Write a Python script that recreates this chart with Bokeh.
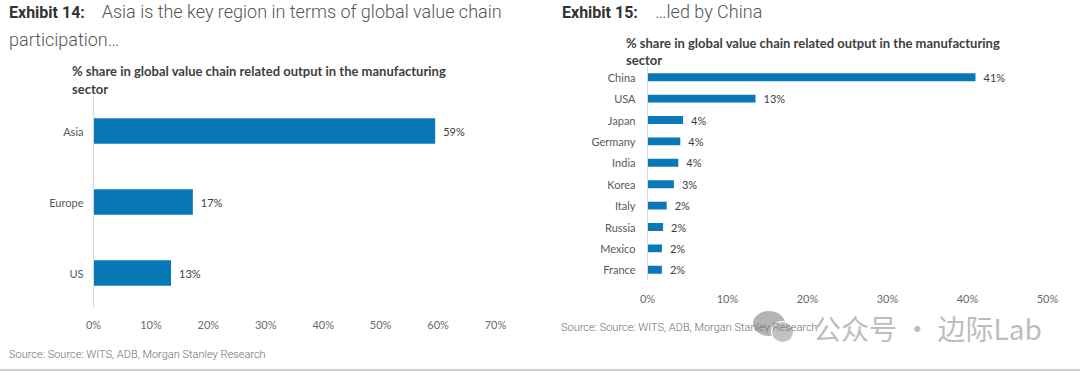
from bokeh.plotting import figure
from bokeh.layouts import row, column
from bokeh.models import Range1d, FactorRange, FixedTicker, PrintfTickFormatter, ColumnDataSource, Div
from bokeh.core.properties import value
from bokeh.embed import file_html
from bokeh.resources import INLINE

# ---------------- data ----------------
regions = ["Asia", "Europe", "US"]
region_share = [59.5, 17.3, 13.5]
region_labels = ["59%", "17%", "13%"]
region_ticks = [0, 10, 20, 30, 40, 50, 60, 70]

countries = ["China", "USA", "Japan", "Germany", "India", "Korea", "Italy", "Russia", "Mexico", "France"]
country_share = [41.0, 13.5, 4.45, 4.1, 3.85, 3.3, 2.4, 1.95, 1.8, 1.8]
country_labels = ["41%", "13%", "4%", "4%", "4%", "3%", "2%", "2%", "2%", "2%"]
country_ticks = [0, 10, 20, 30, 40, 50]

title14_bold = "Exhibit 14:"
title14_text = "Asia is the key region in terms of global value chain"
title14_line2 = "participation\u2026"
title15_bold = "Exhibit 15:"
title15_text = "\u2026led by China"
subtitle1 = "% share in global value chain related output in the manufacturing"
subtitle2 = "sector"
source_text = "Source: Source: WITS, ADB, Morgan Stanley Research"
watermark = "\u516c\u4f17\u53f7 \u00b7 \u8fb9\u9645Lab"

BAR = "#0a78b7"
FONT = "Lato"


def make_chart(cats, vals, labs, ticks, xmax, width, height, bl, br, bt, bb,
               bar_h, tick_standoff, cat_standoff):
    p = figure(width=width, height=height,
               y_range=FactorRange(factors=list(reversed(cats))),
               x_range=Range1d(0, xmax),
               output_backend="svg", toolbar_location=None,
               min_border_left=bl, min_border_right=br,
               min_border_top=bt, min_border_bottom=bb)
    try:
        p.frame_align = False
    except Exception:
        pass
    p.outline_line_color = None
    p.grid.visible = False
    src = ColumnDataSource(dict(cat=cats, val=vals, lab=labs))
    p.hbar(y="cat", left=0, right="val", height=bar_h, source=src,
           fill_color=BAR, line_color=None)
    p.text(x="val", y="cat", text="lab", source=src, x_offset=8,
           text_baseline="middle", text_align="left",
           text_font=value(FONT), text_font_size="11px", text_color="#404040")
    xa = p.xaxis[0]
    xa.ticker = FixedTicker(ticks=ticks)
    xa.formatter = PrintfTickFormatter(format="%d%%")
    xa.axis_line_color = None
    xa.major_tick_line_color = None
    xa.minor_tick_line_color = None
    xa.major_tick_out = 0
    xa.major_tick_in = 0
    xa.major_label_standoff = tick_standoff
    xa.major_label_text_font = FONT
    xa.major_label_text_font_size = "11px"
    xa.major_label_text_color = "#6a6a6a"
    ya = p.yaxis[0]
    ya.axis_line_color = "#d9d9d9"
    ya.axis_line_width = 1
    ya.major_tick_line_color = None
    ya.minor_tick_line_color = None
    ya.major_tick_out = 0
    ya.major_tick_in = 0
    ya.major_label_standoff = cat_standoff
    ya.major_label_text_font = FONT
    ya.major_label_text_font_size = "11px"
    ya.major_label_text_color = "#595959"
    return p


K = {"Roboto": 0.842, "Lato": 0.887, "Noto Sans CJK SC": 0.88}


def span(x, baseline, text, size, family, weight, color):
    top = baseline - K[family] * size
    return ('<span style="position:absolute;left:%spx;top:%.1fpx;font-family:\'%s\';'
            'font-size:%spx;font-weight:%s;color:%s;line-height:1;white-space:nowrap;">%s</span>'
            % (x, top, family, size, weight, color, text))


def shape(x, y, w, h, color, extra=""):
    return ('<div style="position:absolute;left:%spx;top:%spx;width:%spx;height:%spx;'
            'background:%s;border-radius:50%%;%s"></div>' % (x, y, w, h, color, extra))


def box(w, h, inner):
    return Div(text='<div style="position:relative;width:%dpx;height:%dpx;overflow:visible;">%s</div>'
               % (w, h, inner), width=w, height=h, margin=(0, 0, 0, 0))


# ---------------- left panel ----------------
head_l = box(540, 95,
             span(9, 18.5, title14_bold, 16, "Roboto", 700, "#333333")
             + span(101.7, 18.5, title14_text, 18, "Roboto", 300, "#555555")
             + span(9, 46.5, title14_line2, 18, "Roboto", 300, "#555555")
             + span(72, 76, subtitle1, 13, "Lato", 700, "#404040")
             + span(72, 94, subtitle2, 13, "Lato", 700, "#404040"))
left = make_chart(regions, region_share, region_labels, region_ticks, 70,
                  540, 245, 93, 45, 0, 32, 0.36, 9, 10)
foot_l = box(540, 31,
             span(9, 18.5, source_text, 11, "Roboto", 300, "#6e6e6e")
             + '<div style="position:absolute;left:0;top:29px;width:540px;height:2px;background:#cfcfcf;"></div>')

# ---------------- right panel ----------------
head_r = box(540, 66,
             span(22, 18.5, title15_bold, 16, "Roboto", 700, "#333333")
             + span(115, 18.5, title15_text, 18, "Roboto", 300, "#555555")
             + span(86, 48, subtitle1, 13, "Lato", 700, "#404040")
             + span(86, 65, subtitle2, 13, "Lato", 700, "#404040"))
right = make_chart(countries, country_share, country_labels, country_ticks, 50,
                   540, 244, 107, 33, 0, 30, 0.37, 11, 12)
foot_r = box(540, 61,
             shape(213, 1, 32, 25, "#b4b4b4")
             + shape(231, 11, 23, 22, "#c2c2c2", "border:1.5px solid #ffffff;")
             + span(21, 21.5, source_text, 11, "Roboto", 300, "#6e6e6e")
             + span(273, 28.6, watermark, 28, "Noto Sans CJK SC", 400, "#bdbdbd")
             + '<div style="position:absolute;left:0;top:59px;width:540px;height:2px;background:#cfcfcf;"></div>')

layout = row(column(head_l, left, foot_l), column(head_r, right, foot_r))
open("out.html", "w").write(file_html(layout, INLINE))
